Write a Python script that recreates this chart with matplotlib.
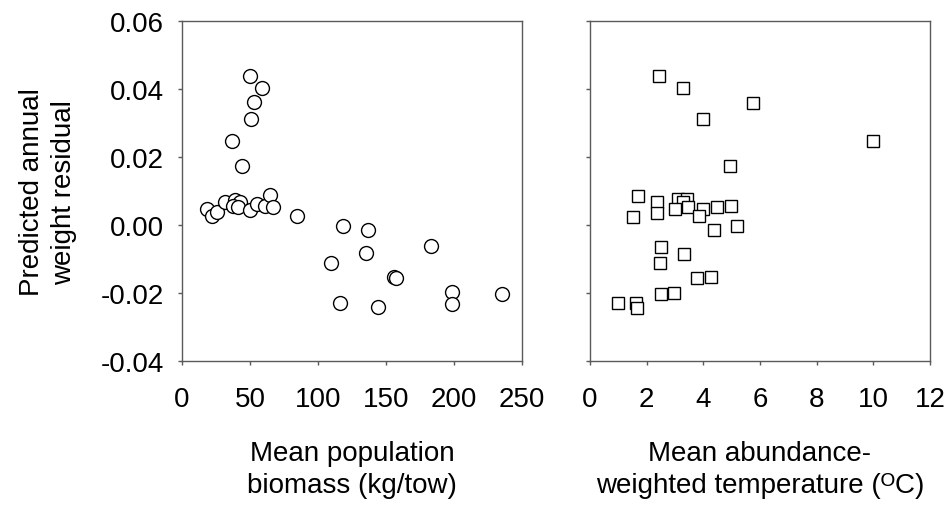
import matplotlib
matplotlib.use("Agg")
import matplotlib.pyplot as plt

plt.rcParams['font.family'] = ['Liberation Sans', 'DejaVu Sans']

# Left panel: mean population biomass (kg/tow) vs residual
biomass = [50.0, 58.6, 52.9, 50.5, 36.5, 43.9,
           18.1, 22.3, 25.5, 31.6, 39.0, 42.6, 37.7, 41.4, 50.0, 54.9, 61.0, 64.7, 67.2, 84.8,
           118.1, 137.0, 135.3, 109.3, 183.1, 155.9, 157.4, 116.2, 144.3, 198.3, 198.8, 235.0]
resid_biomass = [0.0439, 0.0402, 0.0361, 0.0312, 0.0248, 0.0174,
                 0.0049, 0.0027, 0.0039, 0.0069, 0.0075, 0.0067, 0.0057, 0.0052, 0.0045, 0.0062,
                 0.0057, 0.0088, 0.0052, 0.0026,
                 -0.0002, -0.0015, -0.0083, -0.0111, -0.0062, -0.0151, -0.0155, -0.0230, -0.0240,
                 -0.0196, -0.0232, -0.0202]

# Right panel: mean abundance-weighted temperature (oC) vs residual
temperature = [2.44, 3.28, 5.75, 4.00, 10.0, 4.95,
               1.68, 2.38, 2.38, 1.51, 3.12, 3.41, 3.27, 3.00, 3.47, 4.00, 3.86, 4.47, 4.97,
               4.39, 5.18, 2.51, 3.33, 2.47, 3.79, 4.27, 2.51, 2.96, 0.98, 1.62, 1.65]
resid_temp = [0.0439, 0.0402, 0.0359, 0.0311, 0.0248, 0.0174,
              0.0086, 0.0069, 0.0037, 0.0024, 0.0076, 0.0076, 0.0067, 0.0047, 0.0052, 0.0047,
              0.0027, 0.0054, 0.0055,
              -0.0015, -0.0002, -0.0064, -0.0085, -0.0112, -0.0155, -0.0152, -0.0201, -0.0198,
              -0.0230, -0.0230, -0.0243]

yticks = [-0.04, -0.02, 0.00, 0.02, 0.04, 0.06]
ytick_labels = ['-0.04', '-0.02', '0.00', '0.02', '0.04', '0.06']
xticks_left = [0, 50, 100, 150, 200, 250]
xticks_right = [0, 2, 4, 6, 8, 10, 12]

fig = plt.figure(figsize=(9.51, 5.10), dpi=100)
W, H = 951, 510
ax1 = fig.add_axes([182 / W, 1 - 362.3 / H, 340 / W, 340.3 / H])
ax2 = fig.add_axes([590 / W, 1 - 362.3 / H, 340 / W, 340.3 / H])

spine_col = '#5a5a5a'
fs = 20

for ax in (ax1, ax2):
    for s in ax.spines.values():
        s.set_color(spine_col)
        s.set_linewidth(1.0)
    ax.set_ylim(-0.04, 0.06)
    ax.set_yticks(yticks)
    ax.tick_params(direction='out', length=3, width=1.0, color=spine_col,
                   labelsize=fs, top=False, right=False)
    ax.tick_params(axis='x', pad=15)
    ax.tick_params(axis='y', pad=10)

ax1.plot(biomass, resid_biomass, linestyle='none', marker='o', markersize=10,
         markerfacecolor='white', markeredgecolor='black', markeredgewidth=1.0)
ax1.set_xlim(0, 250)
ax1.set_xticks(xticks_left)
ax1.set_xticklabels([str(t) for t in xticks_left])
ax1.set_yticklabels(ytick_labels)
ax1.set_xlabel('Mean population\nbiomass (kg/tow)', fontsize=fs, labelpad=20, linespacing=1.3)
ax1.set_ylabel('Predicted annual\nweight residual', fontsize=fs, labelpad=17, linespacing=1.3)

ax2.plot(temperature, resid_temp, linestyle='none', marker='s', markersize=9.2,
         markerfacecolor='white', markeredgecolor='black', markeredgewidth=1.0)
ax2.set_xlim(0, 12)
ax2.set_xticks(xticks_right)
ax2.set_xticklabels([str(t) for t in xticks_right])
ax2.set_yticklabels([])
ax2.set_xlabel('Mean abundance-\nweighted temperature (\u1d3cC)', fontsize=fs,
               labelpad=20, linespacing=1.3)

fig.savefig('out.png', dpi=100)
